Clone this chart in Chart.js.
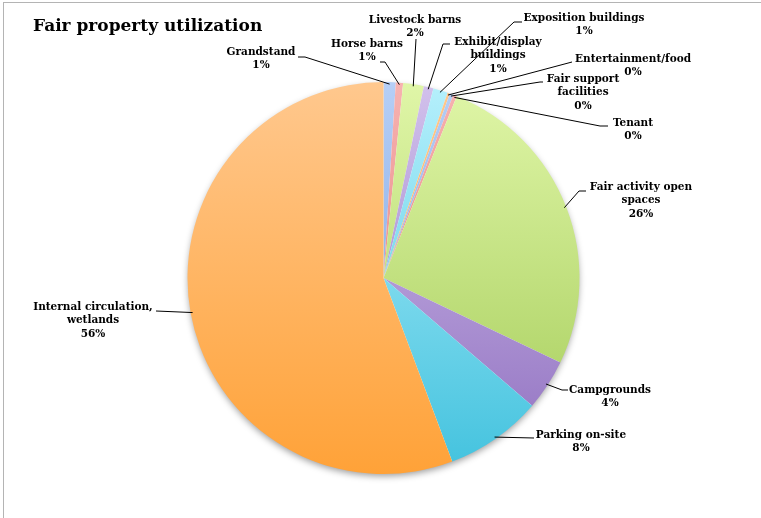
<!DOCTYPE html>
<html>
<head>
<meta charset="utf-8">
<script src="https://cdn.jsdelivr.net/npm/chart.js@4/dist/chart.umd.min.js"></script>
<style>
  body { margin: 0; background: #fff; }
  #wrap { position: relative; width: 761px; height: 518px; }
  #frame { position: absolute; left: 3px; top: 2px; right: 0; bottom: 0; border-left: 1px solid #b4b4b4; border-top: 1px solid #b4b4b4; }
  canvas { position: absolute; left: 0; top: 0; }
</style>
</head>
<body>
<div id="wrap">
  <div id="frame"></div>
  <canvas id="pie" width="761" height="518"></canvas>
</div>
<script>
// data
const categories = ['Grandstand', 'Horse barns', 'Livestock barns', 'Exhibit/display buildings',
  'Exposition buildings', 'Entertainment/food', 'Fair support facilities', 'Tenant',
  'Fair activity open spaces', 'Campgrounds', 'Parking on-site', 'Internal circulation, wetlands'];
const shares = [1.0, 0.6, 1.7, 0.8, 1.2, 0.2, 0.3, 0.3, 26.0, 4.2, 8.0, 55.7];

// label text lines, as wrapped in the original
const labelLines = [
  ['Grandstand'], ['Horse barns'], ['Livestock barns'], ['Exhibit/display', 'buildings'],
  ['Exposition buildings'], ['Entertainment/food'], ['Fair support', 'facilities'], ['Tenant'],
  ['Fair activity open', 'spaces'], ['Campgrounds'], ['Parking on-site'], ['Internal circulation,', 'wetlands']
];

// light (top) / dark (bottom) gradient stops, Office-style palette
const palette = [
  ['#b6cff6', '#6f9ade'],
  ['#f7b3b1', '#df6f6b'],
  ['#e0f6a8', '#a3cb57'],
  ['#d2c1ec', '#9070c0'],
  ['#b6f0fc', '#42c2de'],
  ['#ffc88e', '#ffa238']
];

// label layout: text centre x, first line y, leader elbow (x,y) next to the text
const labelLayout = [
  { x: 261, y: 52, ex: 298, ey: 57, hx: 305 },
  { x: 367, y: 44, ex: 380, ey: 62, hx: 385 },
  { x: 415, y: 20, ex: 416, ey: 39, hx: 416 },
  { x: 498, y: 42, ex: 450, ey: 44, hx: 443 },
  { x: 584, y: 18, ex: 522, ey: 22, hx: 514 },
  { x: 633, y: 59, ex: 572, ey: 62, hx: 572 },
  { x: 583, y: 79, ex: 543, ey: 82, hx: 540 },
  { x: 633, y: 123, ex: 608, ey: 126, hx: 600 },
  { x: 641, y: 187, ex: 586, ey: 191, hx: 579 },
  { x: 610, y: 390, ex: 568, ey: 390, hx: 562 },
  { x: 581, y: 435, ex: 534, ey: 438, hx: 534 },
  { x: 93, y: 307, ex: 156, ey: 311, hx: 156 }
];

const fontFamily = '"DejaVu Serif", "Liberation Serif", serif';

function sliceFill(context) {
  const chart = context.chart;
  const area = chart.chartArea;
  if (!area) return palette[context.dataIndex % palette.length][1];
  const pair = palette[context.dataIndex % palette.length];
  const g = chart.ctx.createLinearGradient(0, area.top, 0, area.bottom);
  g.addColorStop(0, pair[0]);
  g.addColorStop(1, pair[1]);
  return g;
}

const pieShadow = {
  id: 'pieShadow',
  beforeDatasetsDraw(chart) {
    const arc = chart.getDatasetMeta(0).data[0];
    if (!arc) return;
    const ctx = chart.ctx;
    ctx.save();
    ctx.shadowColor = 'rgba(0,0,0,0.4)';
    ctx.shadowBlur = 7;
    ctx.shadowOffsetY = 3;
    ctx.fillStyle = '#ffffff';
    ctx.beginPath();
    ctx.arc(arc.x, arc.y, arc.outerRadius - 1, 0, Math.PI * 2);
    ctx.fill();
    ctx.restore();
  }
};

const outsideLabels = {
  id: 'outsideLabels',
  afterDatasetsDraw(chart) {
    const ctx = chart.ctx;
    const meta = chart.getDatasetMeta(0);
    const total = shares.reduce((a, b) => a + b, 0);
    ctx.save();
    // title
    ctx.fillStyle = '#000';
    ctx.font = 'bold 17px ' + fontFamily;
    ctx.textAlign = 'left';
    ctx.textBaseline = 'middle';
    ctx.fillText('Fair property utilization', 33, 27);

    ctx.font = 'bold 10.5px ' + fontFamily;
    ctx.textAlign = 'center';
    meta.data.forEach((arc, i) => {
      const pos = labelLayout[i];
      const mid = (arc.startAngle + arc.endAngle) / 2;
      const r = arc.outerRadius - 2;
      const ax = arc.x + Math.cos(mid) * r;
      const ay = arc.y + Math.sin(mid) * r;
      ctx.strokeStyle = '#000';
      ctx.lineWidth = 1;
      ctx.beginPath();
      ctx.moveTo(pos.ex, pos.ey);
      ctx.lineTo(pos.hx, pos.ey);
      ctx.lineTo(ax, ay);
      ctx.stroke();

      const lines = labelLines[i].concat([Math.round(shares[i] / total * 100) + '%']);
      lines.forEach((t, k) => ctx.fillText(t, pos.x, pos.y + k * 13.5));
    });
    ctx.restore();
  }
};

new Chart(document.getElementById('pie'), {
  type: 'pie',
  data: {
    labels: categories,
    datasets: [{
      data: shares,
      backgroundColor: sliceFill,
      borderWidth: 0
    }]
  },
  options: {
    responsive: false,
    animation: false,
    layout: { padding: { left: 187, right: 181, top: 82, bottom: 44 } },
    plugins: {
      legend: { display: false },
      tooltip: { enabled: false }
    }
  },
  plugins: [pieShadow, outsideLabels]
});
</script>
</body>
</html>
